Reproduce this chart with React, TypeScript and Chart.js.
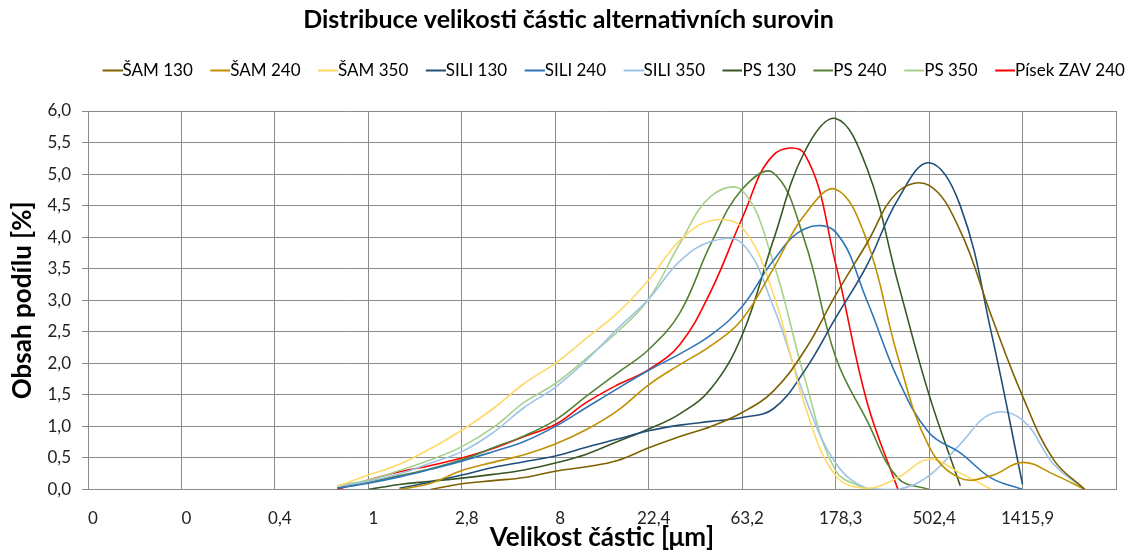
import React, { useEffect, useRef } from 'react';
import { Chart, registerables } from 'chart.js';

Chart.register(...registerables);

// Size classes: every 3rd laser-diffraction class (class index 0..99), labels every 9 classes
const CLASS_STEP = 3;
const LABEL_EVERY = 9;
const CLASS_MAX = 99;
const xTickLabels = ['0', '0', '0,4', '1', '2,8', '8', '22,4', '63,2', '178,3', '502,4', '1415,9'];

const seriesNames = ['ŠAM 130', 'ŠAM 240', 'ŠAM 350', 'SILI 130', 'SILI 240', 'SILI 350', 'PS 130', 'PS 240', 'PS 350', 'Písek ZAV 240'];
const seriesColors = ['#7F6000', '#BF9000', '#FFD966', '#1F4E79', '#2E75B6', '#9DC3E6', '#385723', '#548235', '#A9D18E', '#FF0000'];

const N = null;
const sam130 = [N, N, N, N, N, N, N, N, N, N, N, 0, 0.09, 0.14, 0.19, 0.29, 0.36, 0.46, 0.66, 0.84, 1.0, 1.22, 1.56, 2.2, 3.08, 3.9, 4.72, 4.82, 4.1, 2.75, 1.48, 0.47, 0, N];
const sam240 = [N, N, N, N, N, N, N, N, N, N, 0, 0.1, 0.3, 0.43, 0.55, 0.72, 0.95, 1.25, 1.66, 1.98, 2.28, 2.7, 3.5, 4.35, 4.76, 3.95, 2.1, 0.68, 0.18, 0.22, 0.43, 0.24, 0, N];
const sam350 = [N, N, N, N, N, N, N, N, 0.05, 0.23, 0.4, 0.65, 0.94, 1.28, 1.68, 2.0, 2.4, 2.8, 3.32, 3.95, 4.26, 4.15, 3.1, 1.35, 0.22, 0.02, 0.19, 0.48, 0.26, 0, N, N, N, N];
const sili130 = [N, N, N, N, N, N, N, N, N, N, 0.02, 0.12, 0.23, 0.35, 0.44, 0.53, 0.67, 0.8, 0.93, 1.02, 1.08, 1.14, 1.28, 1.88, 2.72, 3.55, 4.6, 5.18, 4.5, 2.48, 0.08, N, N, N];
const sili240 = [N, N, N, N, N, N, N, N, 0.02, 0.1, 0.2, 0.32, 0.45, 0.6, 0.76, 1.0, 1.3, 1.6, 1.89, 2.15, 2.45, 2.9, 3.63, 4.13, 4.08, 3.0, 1.75, 0.9, 0.58, 0.18, 0, N, N, N];
const sili350 = [N, N, N, N, N, N, N, N, 0.05, 0.13, 0.25, 0.42, 0.6, 0.9, 1.3, 1.62, 2.05, 2.55, 3.02, 3.62, 3.93, 3.9, 2.9, 1.48, 0.42, 0.02, 0, 0.22, 0.72, 1.2, 1.1, 0.4, 0, N];
const ps130 = [N, N, N, N, N, N, N, N, N, 0, 0.08, 0.13, 0.18, 0.24, 0.31, 0.42, 0.56, 0.76, 0.96, 1.2, 1.6, 2.45, 3.95, 5.35, 5.88, 5.1, 3.28, 1.5, 0.06, N, N, N, N, N];
const ps240 = [N, N, N, N, N, N, N, N, 0.03, 0.12, 0.22, 0.33, 0.47, 0.66, 0.85, 1.1, 1.48, 1.85, 2.22, 2.8, 3.9, 4.76, 5.02, 3.95, 2.1, 1.1, 0.18, 0, N, N, N, N, N, N];
const ps350 = [N, N, N, N, N, N, N, N, 0.06, 0.15, 0.3, 0.47, 0.68, 0.98, 1.38, 1.68, 2.08, 2.5, 3.02, 3.9, 4.65, 4.74, 3.6, 1.78, 0.3, 0, N, N, N, N, N, N, N, N];
const pisek240 = [N, N, N, N, N, N, N, N, 0, 0.15, 0.28, 0.38, 0.5, 0.65, 0.84, 1.03, 1.38, 1.66, 1.9, 2.3, 3.15, 4.3, 5.3, 5.32, 3.58, 1.4, 0, N, N, N, N, N, N, N];

const FONT = 'Lato, "Open Sans", sans-serif';
const GRID = '#8A8A8A';
const LEGEND_FONT = 17;
const LEGEND_LINE = 20;
const LEGEND_GAP = 22;
const LEGEND_SHIFT = 41;

function legendLine(color: string) {
  const c = document.createElement('canvas');
  const w = LEGEND_LINE + LEGEND_FONT;
  c.width = w;
  c.height = 4;
  const g = c.getContext('2d')!;
  g.strokeStyle = color;
  g.lineWidth = 2;
  g.beginPath();
  g.moveTo(w - LEGEND_LINE, 2);
  g.lineTo(w, 2);
  g.stroke();
  return c;
}

export default function App() {
  const ref = useRef<HTMLCanvasElement>(null);
  useEffect(() => {
    const series = [sam130, sam240, sam350, sili130, sili240, sili350, ps130, ps240, ps350, pisek240];
    const legendSpacer = {
      id: 'legendSpacer',
      beforeInit(chart: any) {
        const legend = chart.legend;
        if (!legend) return;
        const orig = legend.fit;
        legend.fit = function () {
          orig.call(this);
          this.height += LEGEND_GAP;
        };
      },
      afterLayout(chart: any) {
        const legend = chart.legend;
        if (!legend) return;
        legend.left += LEGEND_SHIFT;
        legend.right += LEGEND_SHIFT;
      },
    };
    const chart = new Chart(ref.current!, {
      type: 'line',
      data: {
        datasets: series.map((vals, i) => ({
          label: seriesNames[i],
          data: vals.map((v, j) => ({ x: j * CLASS_STEP, y: v })),
          borderColor: seriesColors[i],
          backgroundColor: seriesColors[i],
          borderWidth: 1.6,
          pointRadius: 0,
          pointHoverRadius: 0,
          pointStyle: legendLine(seriesColors[i]) as any,
          tension: 0.4,
          spanGaps: false,
          fill: false,
        })),
      },
      options: {
        animation: false,
        responsive: true,
        maintainAspectRatio: false,
        layout: { padding: { left: 8, right: 6, top: 0, bottom: 0 } },
        plugins: {
          title: {
            display: true,
            text: 'Distribuce velikosti částic alternativních surovin',
            color: '#000',
            font: { family: FONT, size: 25, weight: 'bold' },
            padding: { top: 5, bottom: 18 },
          },
          legend: {
            display: true,
            position: 'top',
            labels: {
              usePointStyle: true,
              pointStyleWidth: LEGEND_LINE,
              color: '#000',
              font: { family: FONT, size: LEGEND_FONT },
              padding: 9,
            },
          },
          tooltip: { enabled: false },
        },
        scales: {
          x: {
            type: 'linear',
            min: 0,
            max: CLASS_MAX,
            ticks: {
              stepSize: LABEL_EVERY,
              autoSkip: false,
              maxRotation: 0,
              padding: 19,
              labelOffset: 5,
              color: '#222',
              font: { family: FONT, size: 17 },
              callback: (_v: any, idx: number) => xTickLabels[idx] ?? '',
            },
            grid: { color: GRID, lineWidth: 1, drawTicks: false },
            border: { color: GRID, width: 1 },
            title: {
              display: true,
              text: 'Velikost částic [μm]',
              color: '#000',
              font: { family: FONT, size: 26, weight: 'bold', lineHeight: 1 },
              padding: { top: 0, bottom: -1 },
            },
            afterFit: (s: any) => {
              s.height = 60.5;
            },
          },
          y: {
            min: 0,
            max: 6,
            ticks: {
              stepSize: 0.5,
              padding: 11,
              color: '#222',
              font: { family: FONT, size: 17 },
              callback: (v: any) => Number(v).toFixed(1).replace('.', ','),
            },
            grid: { color: GRID, lineWidth: 1, tickLength: 6 },
            border: { color: GRID, width: 1 },
            title: {
              display: true,
              text: 'Obsah podílu [%]',
              color: '#000',
              font: { family: FONT, size: 26, weight: 'bold', lineHeight: 1 },
              padding: { top: 2, bottom: 0 },
            },
            afterFit: (s: any) => {
              s.width = 80;
            },
          },
        },
      } as any,
      plugins: [legendSpacer],
    });
    return () => chart.destroy();
  }, []);
  return (
    <div style={{ position: 'fixed', left: 0, top: 0, width: 1135, height: 550, background: '#fff' }}>
      <canvas ref={ref} />
    </div>
  );
}
